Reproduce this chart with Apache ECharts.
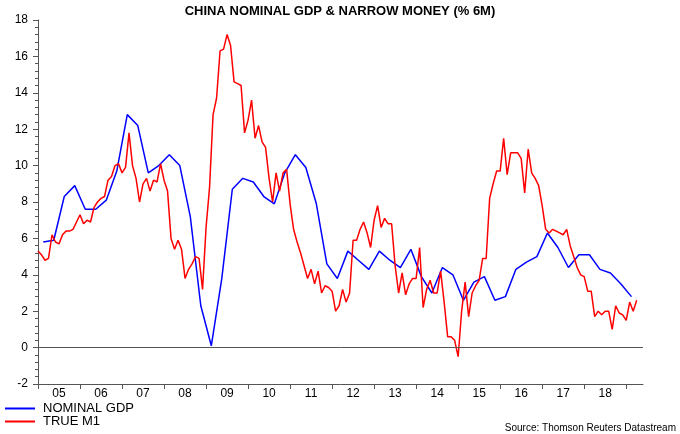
<!DOCTYPE html>
<html><head><meta charset="utf-8">
<script src="https://cdn.jsdelivr.net/npm/echarts@6/dist/echarts.min.js"></script>
<style>html,body{margin:0;padding:0;background:#fff}#c{width:680px;height:434px}</style>
</head><body><div id="c"></div>
<script>
const yearLabels = ['05','06','07','08','09','10','11','12','13','14','15','16','17','18'];
const gdpStart = 2005.125, gdpStep = 0.25;
const nominalGDP = [5.8,5.9,8.3,8.9,7.6,7.6,8.1,9.7,12.8,12.2,9.6,10.0,10.6,10.0,7.2,2.3,0.1,3.8,8.7,9.3,9.1,8.3,7.9,9.6,10.6,9.9,7.9,4.6,3.8,5.3,4.8,4.3,5.3,4.8,4.4,5.4,3.9,3.0,4.4,4.0,2.6,3.6,3.9,2.6,2.8,4.3,4.7,5.0,6.3,5.5,4.4,5.1,5.1,4.3,4.1,3.5,2.8];
const m1Start = 2005.0, m1Step = 1/12;
const trueM1 = [5.3,5.1,4.8,4.9,6.2,5.8,5.7,6.2,6.4,6.4,6.5,6.9,7.3,6.8,7.0,6.9,7.7,8.0,8.2,8.3,9.2,9.4,10.0,10.1,9.6,9.9,11.8,10.0,9.3,8.0,9.0,9.3,8.6,9.2,9.1,10.1,9.2,8.6,6.0,5.4,5.9,5.4,3.8,4.3,4.6,5.0,4.9,3.2,6.6,8.8,12.8,13.7,16.3,16.4,17.2,16.6,14.6,14.5,14.4,11.8,12.5,13.6,11.5,12.2,11.3,11.0,9.3,8.0,9.6,8.6,9.6,9.8,7.9,6.5,5.8,5.2,4.5,3.8,4.3,3.5,4.2,3.0,3.4,3.3,3.1,2.0,2.3,3.2,2.5,3.0,5.9,5.9,6.5,6.9,6.3,5.5,7.0,7.8,6.6,7.1,6.8,6.8,4.5,3.0,4.1,2.9,3.5,3.8,3.8,5.5,2.2,3.2,3.7,3.0,3.0,4.2,2.5,0.6,0.6,0.4,-0.5,2.0,3.6,1.7,3.0,3.4,3.7,4.9,4.9,8.2,9.0,9.7,9.7,11.5,9.5,10.7,10.7,10.7,10.4,8.5,10.9,9.6,9.3,8.9,7.8,6.5,6.3,6.5,6.4,6.3,6.2,6.5,5.6,5.0,4.4,4.0,3.9,3.1,3.1,1.7,2.0,1.8,2.0,2.0,1.0,2.3,1.9,1.8,1.5,2.5,2.0,2.6];

const gdpData = nominalGDP.map((v,i)=>[gdpStart+i*gdpStep, v]);
const m1Data = trueM1.map((v,i)=>[m1Start+i*m1Step, v]);
const F = 'Liberation Sans, Arial, sans-serif';
const chart = echarts.init(document.getElementById('c'));
chart.setOption({
  animation:false,
  title:{text:'CHINA NOMINAL GDP & NARROW MONEY (% 6M)',left:'center',top:0,
    textStyle:{fontFamily:F,fontSize:13,fontWeight:'bold',color:'#000'}},
  grid:{left:38,right:37,top:20,bottom:50},
  xAxis:{type:'value',min:2005,max:2019.4,interval:1,
    axisLine:{onZero:false,lineStyle:{color:'#555'}},
    axisTick:{length:5,lineStyle:{color:'#555'}},
    splitLine:{show:false},
    axisLabel:{showMaxLabel:false,fontFamily:F,fontSize:12,color:'#000',padding:[0,0,0,42],margin:4,
      formatter:v=>{const i=Math.round(v)-2005;return (i>=0&&i<yearLabels.length)?yearLabels[i]:'';}}},
  yAxis:{type:'value',min:-2,max:18,interval:2,
    axisLine:{show:true,lineStyle:{color:'#555'}},
    axisTick:{show:true,length:5,lineStyle:{color:'#555'}},
    minorTick:{show:true,splitNumber:5,length:3,lineStyle:{color:'#555'}},
    splitLine:{show:false},
    axisLabel:{fontFamily:F,fontSize:12,color:'#000',margin:10}},
  legend:{orient:'vertical',left:0,top:397,itemGap:0,itemWidth:30,itemHeight:2,icon:'rect',
    textStyle:{fontFamily:F,fontSize:13,color:'#000',padding:[0,0,0,3]},
    data:['NOMINAL GDP','TRUE M1']},
  graphic:[{type:'text',right:4,top:423,style:{text:'Source: Thomson Reuters Datastream',font:'10px '+F,fill:'#000'}}],
  series:[
    {name:'NOMINAL GDP',type:'line',data:gdpData,showSymbol:false,lineStyle:{color:'#0000ff',width:1.5},itemStyle:{color:'#0000ff'},z:2,
      markLine:{silent:true,symbol:'none',label:{show:false},lineStyle:{color:'#555',width:1,type:'solid'},data:[{yAxis:0}]}},
    {name:'TRUE M1',type:'line',data:m1Data,showSymbol:false,lineStyle:{color:'#ff0000',width:1.5},itemStyle:{color:'#ff0000'},z:3}
  ]
});
</script></body></html>
